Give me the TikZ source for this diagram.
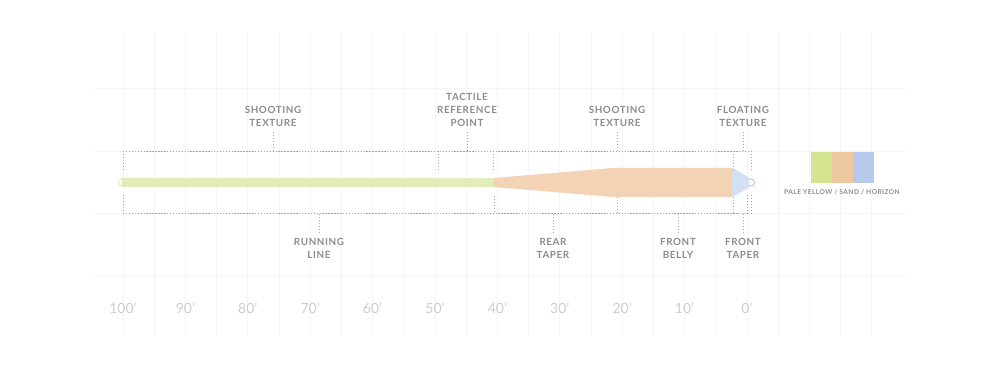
\documentclass[tikz,border=0pt]{standalone}
\usepackage{fontspec}
\setmainfont{Lato}
\newfontfamily\lblfont[LetterSpace=6]{Lato}
\usetikzlibrary{patterns}
\definecolor{gridgray}{HTML}{F5F5F5}
\definecolor{lblgray}{HTML}{8C8C8C}
\definecolor{rulegray}{HTML}{CDCDCD}
\definecolor{dashgray}{HTML}{A6A6A6}
\definecolor{paleyellow}{HTML}{E3EDBC}
\definecolor{paleyellowdk}{HTML}{D8E6A6}
\definecolor{loopyellow}{HTML}{E8DDA8}
\definecolor{sand}{HTML}{F4D3B4}
\definecolor{sanddk}{HTML}{EEC39C}
\definecolor{horizon}{HTML}{D6E0F4}
\definecolor{horizondk}{HTML}{A9C0EA}
\definecolor{swyellow}{HTML}{D5E48F}
\definecolor{swsand}{HTML}{EEC6A0}
\definecolor{swhorizon}{HTML}{B6C9EA}
\begin{document}
\begin{tikzpicture}[x=0.75pt, y=-0.75pt, line join=round,
	lbl/.style={font=\lblfont\bfseries\fontsize{7.4}{9.75}\selectfont, text=lblgray, align=center, inner xsep=0pt, inner ysep=3.75pt},
	ruler/.style={font=\fontsize{10.5}{12}\selectfont, text=rulegray, inner sep=0pt},
	dashline/.style={dashgray, line width=0.55pt, dash pattern=on 1.1pt off 1.1pt},
	gridline/.style={gridgray, line width=0.5pt}]
	\useasboundingbox (0,0) rectangle (992,370);
	% background grid
	\foreach \k in {0,...,24}
		\draw[gridline] ({123+31.2*\k},33)--({123+31.2*\k},335);
	\foreach \y in {88,151,213,276}
		\draw[gridline] (95,\y)--(905,\y);
	% distance ruler
	\foreach \k in {0,...,10}{
		\pgfmathtruncatemacro{\ft}{100-10*\k}
		\node[ruler] (ft\k) at ({123+62.4*\k},308) {\ft’};
	}
	% the line: loops, running line, rear taper, belly, front taper
	\draw[loopyellow, line width=0.6pt] (122,182.5) circle [radius=2.7pt];
	\draw[horizondk, line width=0.6pt] (751,182.5) circle [radius=2.7pt];
	\fill[paleyellow] (122,178) rectangle (495,187);
	\fill[pattern=crosshatch dots, pattern color=paleyellowdk] (122,178) rectangle (438,187);
	\fill[sand] (494,178)--(613,168)--(732,168)--(732,197)--(613,197)--(494,187)--cycle;
	\fill[pattern=crosshatch dots, pattern color=sanddk!70] (494,178)--(613,168)--(732,168)--(732,197)--(613,197)--(494,187)--cycle;
	\fill[horizon] (732,168)--(749,177.5)--(749,187.5)--(732,197)--cycle;
	\fill[pattern=crosshatch, pattern color=horizondk!50] (732,168)--(749,177.5)--(749,187.5)--(732,197)--cycle;
	% brackets
	\coordinate (tl) at (123,151);
	\coordinate (tr) at (751,151);
	\coordinate (bl) at (123,213);
	\coordinate (br) at (751,213);
	\draw[dashline] (tl)--(tr);
	\draw[dashline] (bl)--(br);
	\foreach \x in {123,438,493,733,751}
		\draw[dashline] (\x,151)--(\x,170);
	\foreach \x/\t in {123/195,494/196,617/197,733/197,747/195,751/195}
		\draw[dashline] (\x,\t)--(\x,213);
	% labels above
	\coordinate (cShootA) at (273,151);
	\coordinate (cTactile) at (467,151);
	\coordinate (cShootB) at (617,151);
	\coordinate (cFloat) at (743,151);
	\node[lbl, anchor=south] (lblShootA) at (273,132) {SHOOTING\\TEXTURE};
	\node[lbl, anchor=south] (lblTactile) at (467,132) {TACTILE\\REFERENCE\\POINT};
	\node[lbl, anchor=south] (lblShootB) at (617,132) {SHOOTING\\TEXTURE};
	\node[lbl, anchor=south] (lblFloat) at (743,132) {FLOATING\\TEXTURE};
	\draw[dashline] (lblShootA.south)--(cShootA);
	\draw[dashline] (lblTactile.south)--(cTactile);
	\draw[dashline] (lblShootB.south)--(cShootB);
	\draw[dashline] (lblFloat.south)--(cFloat);
	% labels below
	\coordinate (cRunning) at (319,213);
	\coordinate (cRear) at (553,213);
	\coordinate (cBelly) at (678,213);
	\coordinate (cFront) at (743,213);
	\node[lbl, anchor=north] (lblRunning) at (319,233) {RUNNING\\LINE};
	\node[lbl, anchor=north] (lblRear) at (553,233) {REAR\\TAPER};
	\node[lbl, anchor=north] (lblBelly) at (678,233) {FRONT\\BELLY};
	\node[lbl, anchor=north] (lblFront) at (743,233) {FRONT\\TAPER};
	\draw[dashline] (lblRunning.north)--(cRunning);
	\draw[dashline] (lblRear.north)--(cRear);
	\draw[dashline] (lblBelly.north)--(cBelly);
	\draw[dashline] (lblFront.north)--(cFront);
	% colour swatches
	\fill[swyellow] (811,152) rectangle (832,183);
	\fill[swsand] (832,152) rectangle (853,183);
	\fill[swhorizon] (853,152) rectangle (874,183);
	\node[lbl, font=\lblfont\bfseries\fontsize{5}{6}\selectfont, inner sep=0pt, anchor=base] (colours) at (842,195) {PALE YELLOW / SAND / HORIZON};
\end{tikzpicture}
\end{document}
